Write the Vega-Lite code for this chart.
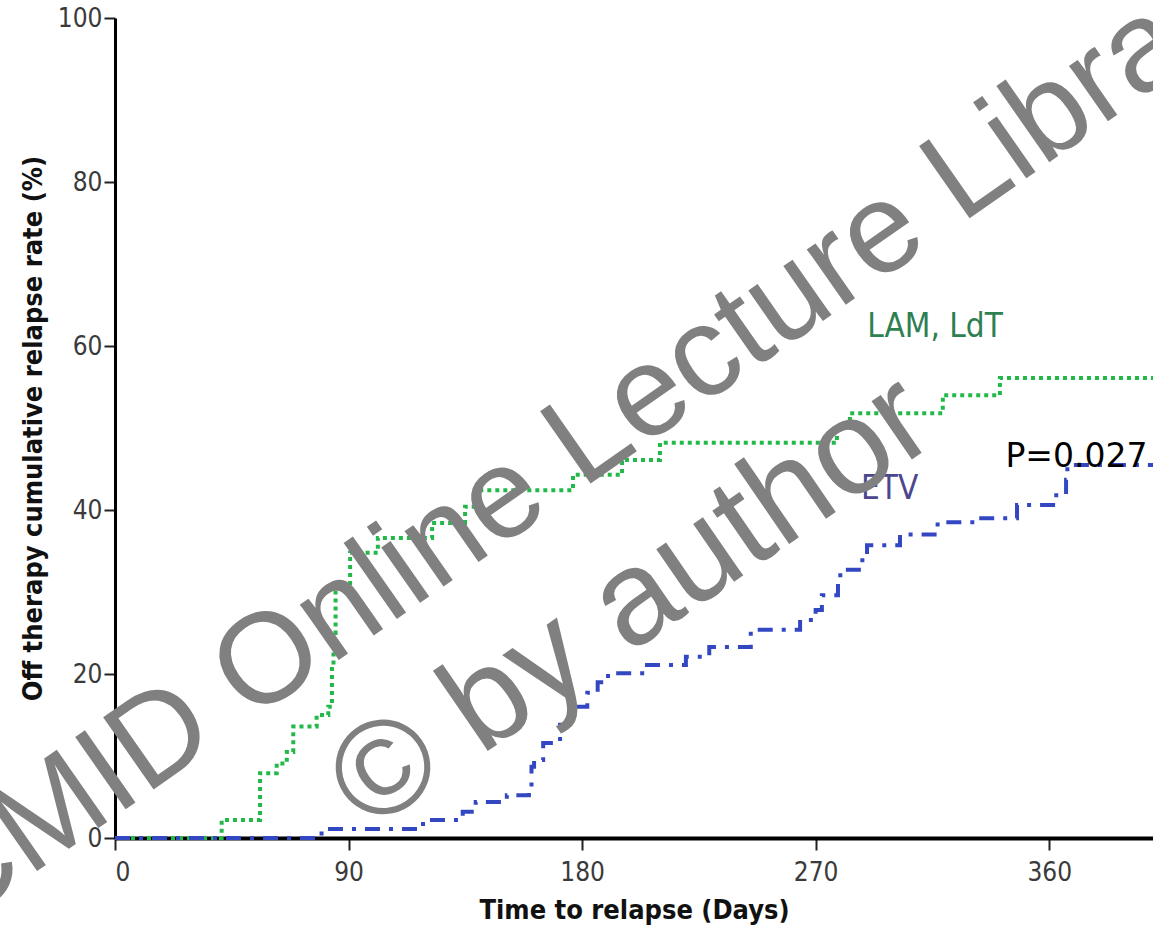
{
  "$schema": "https://vega.github.io/schema/vega-lite/v6.json",
  "width": 1038,
  "height": 820,
  "autosize": "none",
  "padding": {"left": 115, "top": 18, "right": 0, "bottom": 94},
  "background": "white",
  "config": {
    "view": {"stroke": null},
    "axis": {
      "grid": false,
      "domainColor": "black",
      "tickColor": "#222",
      "labelColor": "#3a3a3a",
      "titleColor": "#111",
      "labelFont": "DejaVu Sans Condensed, Liberation Sans Narrow, sans-serif",
      "titleFont": "DejaVu Sans Condensed, Liberation Sans Narrow, sans-serif",
      "labelFontSize": 26,
      "titleFontSize": 27,
      "titleFontWeight": "bold"
    }
  },
  "datasets": {
    "curves": [
      {"group": "LAM, LdT", "day": 0, "rate": 0},
      {"group": "LAM, LdT", "day": 41.1, "rate": 2.2},
      {"group": "LAM, LdT", "day": 55.9, "rate": 7.9},
      {"group": "LAM, LdT", "day": 62.3, "rate": 9.1},
      {"group": "LAM, LdT", "day": 66.2, "rate": 10.5},
      {"group": "LAM, LdT", "day": 68.7, "rate": 13.6},
      {"group": "LAM, LdT", "day": 77.7, "rate": 15},
      {"group": "LAM, LdT", "day": 82.2, "rate": 16},
      {"group": "LAM, LdT", "day": 83.6, "rate": 21},
      {"group": "LAM, LdT", "day": 84.2, "rate": 25},
      {"group": "LAM, LdT", "day": 85, "rate": 30.6},
      {"group": "LAM, LdT", "day": 90.6, "rate": 34.8},
      {"group": "LAM, LdT", "day": 101.3, "rate": 36.6},
      {"group": "LAM, LdT", "day": 122.2, "rate": 38.4},
      {"group": "LAM, LdT", "day": 134.9, "rate": 40.4},
      {"group": "LAM, LdT", "day": 138.7, "rate": 42.4},
      {"group": "LAM, LdT", "day": 176.5, "rate": 44.3},
      {"group": "LAM, LdT", "day": 195.4, "rate": 46.1},
      {"group": "LAM, LdT", "day": 210, "rate": 48.2},
      {"group": "LAM, LdT", "day": 278.2, "rate": 50},
      {"group": "LAM, LdT", "day": 283.2, "rate": 51.8},
      {"group": "LAM, LdT", "day": 319, "rate": 54},
      {"group": "LAM, LdT", "day": 341, "rate": 56.1},
      {"group": "LAM, LdT", "day": 400, "rate": 56.1},
      {"group": "ETV", "day": 0, "rate": 0},
      {"group": "ETV", "day": 79.6, "rate": 1.1},
      {"group": "ETV", "day": 118.7, "rate": 2.2},
      {"group": "ETV", "day": 134, "rate": 3.2},
      {"group": "ETV", "day": 139, "rate": 4.4},
      {"group": "ETV", "day": 151, "rate": 5.2},
      {"group": "ETV", "day": 159.5, "rate": 5.8},
      {"group": "ETV", "day": 160.5, "rate": 8.7},
      {"group": "ETV", "day": 161.5, "rate": 9.5},
      {"group": "ETV", "day": 165, "rate": 11.6},
      {"group": "ETV", "day": 171.5, "rate": 13.8},
      {"group": "ETV", "day": 174, "rate": 15},
      {"group": "ETV", "day": 178, "rate": 16},
      {"group": "ETV", "day": 182, "rate": 17.7},
      {"group": "ETV", "day": 186, "rate": 19},
      {"group": "ETV", "day": 190, "rate": 20.1},
      {"group": "ETV", "day": 205, "rate": 21.1},
      {"group": "ETV", "day": 220, "rate": 22.1},
      {"group": "ETV", "day": 229, "rate": 23.3},
      {"group": "ETV", "day": 245, "rate": 25.4},
      {"group": "ETV", "day": 264, "rate": 26.6},
      {"group": "ETV", "day": 270, "rate": 27.8},
      {"group": "ETV", "day": 272.4, "rate": 29.6},
      {"group": "ETV", "day": 278.6, "rate": 31.1},
      {"group": "ETV", "day": 279.5, "rate": 32.7},
      {"group": "ETV", "day": 288, "rate": 34.2},
      {"group": "ETV", "day": 289.8, "rate": 35.7},
      {"group": "ETV", "day": 302.5, "rate": 37},
      {"group": "ETV", "day": 317, "rate": 38.5},
      {"group": "ETV", "day": 332, "rate": 39},
      {"group": "ETV", "day": 347.6, "rate": 40.6},
      {"group": "ETV", "day": 361.5, "rate": 41.8},
      {"group": "ETV", "day": 366.5, "rate": 43.7},
      {"group": "ETV", "day": 367, "rate": 45.5},
      {"group": "ETV", "day": 400, "rate": 45.5}
    ],
    "lamLabel": [{"text": "LAM, LdT", "day": 316, "rate": 62.3}],
    "etvLabel": [{"text": "ETV", "day": 298.5, "rate": 42.6}],
    "pval": [{"text": "P=0.027", "day": 370.5, "rate": 45.3}],
    "watermark1": [{"text": "CMID Online Lecture Library", "day": 193.5, "rate": 45.5}],
    "watermark2": [{"text": "© by author", "day": 208, "rate": 24.6}]
  },
  "layer": [
    {
      "data": {"name": "curves"},
      "mark": {"type": "line", "interpolate": "step-after", "strokeWidth": 4, "strokeCap": "butt", "clip": false},
      "encoding": {
        "x": {
          "field": "day", "type": "quantitative",
          "scale": {"domain": [0, 400], "nice": false, "zero": true},
          "axis": {
            "values": [0, 90, 180, 270, 360],
            "title": "Time to relapse (Days)",
            "domainWidth": 4,
            "tickSize": 12,
            "tickWidth": 2,
            "labelPadding": 9,
            "titlePadding": 12
          }
        },
        "y": {
          "field": "rate", "type": "quantitative",
          "scale": {"domain": [0, 100], "nice": false},
          "axis": {
            "values": [0, 20, 40, 60, 80, 100],
            "title": "Off therapy cumulative relapse rate (%)",
            "domainWidth": 3,
            "tickSize": 11,
            "tickWidth": 2,
            "labelPadding": 2,
            "titlePadding": 10
          }
        },
        "color": {
          "field": "group", "type": "nominal",
          "scale": {"domain": ["LAM, LdT", "ETV"], "range": ["#22b84a", "#3347c2"]},
          "legend": null
        },
        "strokeDash": {
          "field": "group", "type": "nominal",
          "scale": {"domain": ["LAM, LdT", "ETV"], "range": [[4, 4], [15, 9, 4, 9]]},
          "legend": null
        }
      }
    },
    {
      "data": {"name": "lamLabel"},
      "mark": {"type": "text", "fontSize": 33, "font": "DejaVu Sans Condensed, Liberation Sans Narrow, sans-serif", "align": "center", "baseline": "middle", "color": "#2e7f52"},
      "encoding": {
        "x": {"field": "day", "type": "quantitative"},
        "y": {"field": "rate", "type": "quantitative"},
        "text": {"field": "text"}
      }
    },
    {
      "data": {"name": "etvLabel"},
      "mark": {"type": "text", "fontSize": 33, "font": "DejaVu Sans Condensed, Liberation Sans Narrow, sans-serif", "align": "center", "baseline": "middle", "color": "#4b468f"},
      "encoding": {
        "x": {"field": "day", "type": "quantitative"},
        "y": {"field": "rate", "type": "quantitative"},
        "text": {"field": "text"}
      }
    },
    {
      "data": {"name": "pval"},
      "mark": {"type": "text", "fontSize": 33, "font": "DejaVu Sans", "align": "center", "baseline": "alphabetic", "color": "#000"},
      "encoding": {
        "x": {"field": "day", "type": "quantitative"},
        "y": {"field": "rate", "type": "quantitative"},
        "text": {"field": "text"}
      }
    },
    {
      "data": {"name": "watermark1"},
      "mark": {"type": "text", "fontSize": 128, "font": "Liberation Sans", "align": "center", "baseline": "alphabetic", "angle": -35, "color": "#808080"},
      "encoding": {
        "x": {"field": "day", "type": "quantitative"},
        "y": {"field": "rate", "type": "quantitative"},
        "text": {"field": "text"}
      }
    },
    {
      "data": {"name": "watermark2"},
      "mark": {"type": "text", "fontSize": 134, "font": "Liberation Sans", "align": "center", "baseline": "alphabetic", "angle": -34.5, "color": "#808080"},
      "encoding": {
        "x": {"field": "day", "type": "quantitative"},
        "y": {"field": "rate", "type": "quantitative"},
        "text": {"field": "text"}
      }
    }
  ]
}
